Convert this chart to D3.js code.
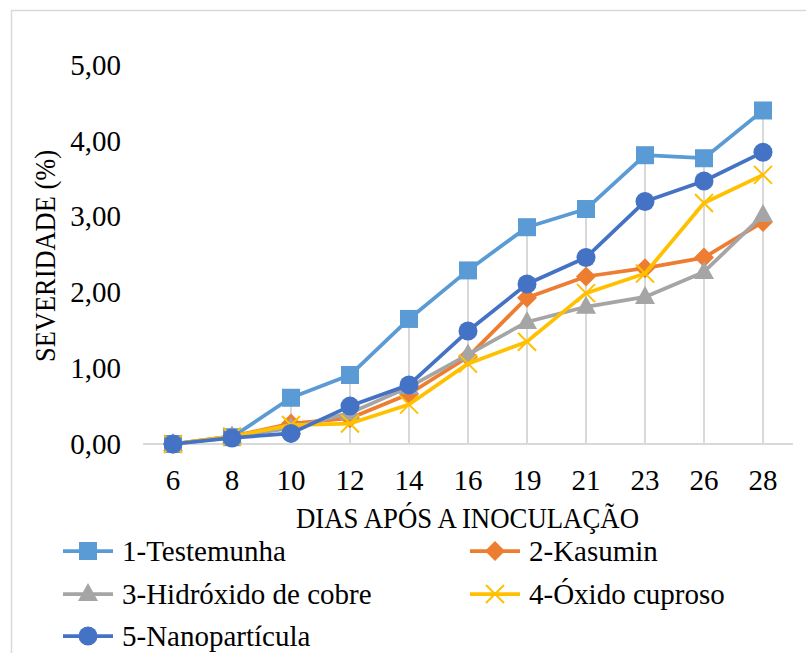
<!DOCTYPE html>
<html>
<head>
<meta charset="UTF-8">
<title>Severidade</title>
<script src="https://d3js.org/d3.v7.min.js"></script>
<style>
    body { margin: 0; background: #fff; }
    svg { display: block; }
</style>
</head>
<body>
<svg id="chart" width="806" height="653"></svg>
<script>
    // dados
    const dias = ["6", "8", "10", "12", "14", "16", "19", "21", "23", "26", "28"];
    const yTicks = [0, 1, 2, 3, 4, 5];
    const testemunha = [0, 0.09, 0.61, 0.91, 1.65, 2.29, 2.86, 3.10, 3.81, 3.77, 4.40];
    const kasumin = [0, 0.10, 0.27, 0.34, 0.66, 1.15, 1.93, 2.21, 2.32, 2.46, 2.93];
    const hidroxido = [0, 0.10, 0.21, 0.41, 0.75, 1.18, 1.61, 1.81, 1.94, 2.27, 3.02];
    const oxido = [0, 0.10, 0.25, 0.27, 0.52, 1.06, 1.35, 1.99, 2.25, 3.18, 3.55];
    const nano = [0, 0.08, 0.14, 0.50, 0.78, 1.49, 2.11, 2.46, 3.20, 3.47, 3.85];

    const series = [
        { name: "1-Testemunha", values: testemunha, color: "#5B9BD5", marker: "square" },
        { name: "2-Kasumin", values: kasumin, color: "#ED7D31", marker: "diamond" },
        { name: "3-Hidróxido de cobre", values: hidroxido, color: "#A5A5A5", marker: "triangle" },
        { name: "4-Óxido cuproso", values: oxido, color: "#FFC000", marker: "x" },
        { name: "5-Nanopartícula", values: nano, color: "#4472C4", marker: "circle" }
    ];

    const svg = d3.select("#chart")
        .attr("font-family", "'Liberation Serif', 'DejaVu Serif', serif");
    const fontSize = 29;

    // moldura
    svg.append("rect")
        .attr("x", 11.5).attr("y", 10.5)
        .attr("width", 830).attr("height", 680)
        .attr("fill", "#fff")
        .attr("stroke", "#d9d9d9")
        .attr("stroke-width", 1.5);

    const x = d3.scalePoint().domain(dias).range([173, 763]);
    const y = d3.scaleLinear().domain([0, 5]).range([444, 65]);

    // linhas de queda (do maior valor até o eixo)
    dias.forEach((d, i) => {
        const maxV = d3.max(series, s => s.values[i]);
        svg.append("line")
            .attr("x1", x(d)).attr("x2", x(d))
            .attr("y1", y(0)).attr("y2", y(maxV))
            .attr("stroke", "#d9d9d9")
            .attr("stroke-width", 2);
    });

    // eixo x
    svg.append("line")
        .attr("x1", 143).attr("x2", 793)
        .attr("y1", y(0)).attr("y2", y(0))
        .attr("stroke", "#d9d9d9")
        .attr("stroke-width", 2);

    svg.append("g")
        .selectAll("text")
        .data(dias)
        .join("text")
        .attr("x", d => x(d))
        .attr("y", 490)
        .attr("text-anchor", "middle")
        .attr("font-size", fontSize)
        .text(d => d);

    // eixo y
    const fmt = v => v.toFixed(2).replace(".", ",");
    svg.append("g")
        .selectAll("text")
        .data(yTicks)
        .join("text")
        .attr("x", 121)
        .attr("y", d => y(d))
        .attr("dy", "0.34em")
        .attr("text-anchor", "end")
        .attr("font-size", fontSize)
        .text(d => fmt(d));

    // títulos (um pouco estreitos no original)
    svg.append("text")
        .attr("x", 296).attr("y", 528)
        .attr("font-size", fontSize)
        .attr("textLength", 343)
        .attr("lengthAdjust", "spacingAndGlyphs")
        .text("DIAS APÓS A INOCULAÇÃO");

    svg.append("text")
        .attr("transform", "translate(55,362) rotate(-90)")
        .attr("font-size", fontSize)
        .attr("textLength", 212)
        .attr("lengthAdjust", "spacingAndGlyphs")
        .text("SEVERIDADE (%)");

    // marcadores
    function drawMarker(g, type, cx, cy, color) {
        if (type === "square") {
            g.append("rect").attr("x", cx - 9).attr("y", cy - 9)
                .attr("width", 18).attr("height", 18).attr("fill", color);
        } else if (type === "diamond") {
            g.append("path").attr("d", `M${cx},${cy - 10}L${cx + 10},${cy}L${cx},${cy + 10}L${cx - 10},${cy}Z`)
                .attr("fill", color);
        } else if (type === "triangle") {
            g.append("path").attr("d", `M${cx},${cy - 11}L${cx + 10},${cy + 7}L${cx - 10},${cy + 7}Z`)
                .attr("fill", color);
        } else if (type === "x") {
            g.append("path").attr("d", `M${cx - 9},${cy - 9}L${cx + 9},${cy + 9}M${cx + 9},${cy - 9}L${cx - 9},${cy + 9}`)
                .attr("stroke", color).attr("stroke-width", 2).attr("fill", "none");
        } else {
            g.append("circle").attr("cx", cx).attr("cy", cy).attr("r", 9.5).attr("fill", color);
        }
    }

    const line = d3.line()
        .x((v, i) => x(dias[i]))
        .y(v => y(v));

    series.forEach(s => {
        const g = svg.append("g");
        g.append("path")
            .datum(s.values)
            .attr("fill", "none")
            .attr("stroke", s.color)
            .attr("stroke-width", 3.75)
            .attr("stroke-linejoin", "round")
            .attr("d", line);
        s.values.forEach((v, i) => drawMarker(g, s.marker, x(dias[i]), y(v), s.color));
    });

    // legenda
    const legendPos = [
        { x: 63, y: 551 }, { x: 470, y: 551 },
        { x: 63, y: 594 }, { x: 470, y: 594 },
        { x: 63, y: 636 }
    ];
    series.forEach((s, i) => {
        const p = legendPos[i];
        const g = svg.append("g");
        g.append("line")
            .attr("x1", p.x).attr("x2", p.x + 50)
            .attr("y1", p.y).attr("y2", p.y)
            .attr("stroke", s.color).attr("stroke-width", 3.75);
        drawMarker(g, s.marker, p.x + 25, p.y, s.color);
        g.append("text")
            .attr("x", p.x + 59).attr("y", p.y)
            .attr("dy", "0.34em")
            .attr("font-size", fontSize)
            .text(s.name);
    });
</script>
</body>
</html>
